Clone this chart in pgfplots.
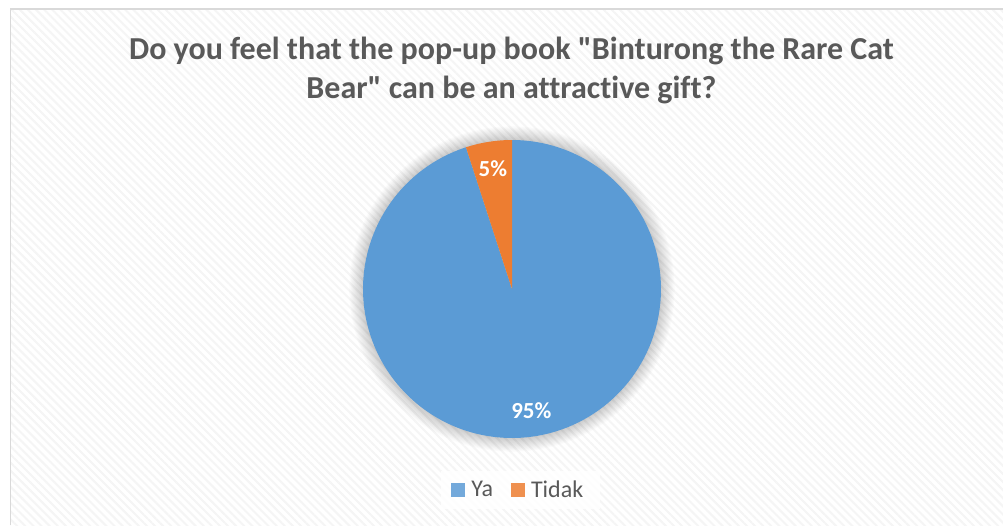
\documentclass[border=0pt]{standalone}
\usepackage{pgfplots}
\pgfplotsset{compat=1.18}
\usepackage{pgfplotstable}
\usepackage{fontspec}
\setmainfont{Carlito}[Ligatures={NoCommon,TeXOff}]
\usetikzlibrary{patterns.meta}
\definecolor{pieblue}{HTML}{5B9BD5}
\definecolor{pieorange}{HTML}{ED7D31}
\definecolor{titlegray}{HTML}{595959}
\definecolor{bordergray}{HTML}{D9D9D9}

\pgfplotstableread{
label value
Ya 95
Tidak 5
}\piedata

\begin{document}
\begin{tikzpicture}
\pgfplotstablegetelem{0}{value}\of\piedata \let\va\pgfplotsretval
\pgfplotstablegetelem{1}{value}\of\piedata \let\vb\pgfplotsretval
\pgfmathsetmacro\aS{90}
\pgfmathsetmacro\aE{90-3.6*\va}
\pgfmathsetmacro\bE{\aE-3.6*\vb}
\pgfmathsetmacro\ma{(\aS+\aE)/2}
\pgfmathsetmacro\mb{(\aE+\bE)/2}
\pgfmathsetmacro\lax{0.83*cos(\ma)}
\pgfmathsetmacro\lay{0.83*sin(\ma)}
\pgfmathsetmacro\lbx{0.82*cos(\mb)}
\pgfmathsetmacro\lby{0.82*sin(\mb)}
% canvas
\useasboundingbox (0,0) rectangle (752.25pt,-393.75pt);
\fill[white] (0,0) rectangle (752.25pt,-393.75pt);
\fill[pattern={Lines[angle=-45,distance=4.3pt,line width=1.5pt]},pattern color=black!4]
  (7.5pt,-6.75pt) rectangle (752.25pt,-393.75pt);
\draw[bordergray,line width=1.2pt] (8pt,-393.75pt) -- (8pt,-6.75pt) -- (752.25pt,-6.75pt);
% title
\node[anchor=base,font=\bfseries\fontsize{24pt}{28pt}\selectfont,text=titlegray,inner sep=0pt]
  at (383.6pt,-44.25pt) {Do you feel that the pop-up book "Binturong the Rare Cat};
\node[anchor=base,font=\bfseries\fontsize{24pt}{28pt}\selectfont,text=titlegray,inner sep=0pt]
  at (383.6pt,-73.5pt) {Bear" can be an attractive gift?};
% soft shadow
\foreach \i in {1,...,12}{
  \fill[black,opacity=0.015] (384pt,-216.75pt) circle ({111.75pt+\i*0.85pt});
}
\begin{axis}[
  hide axis,
  scale only axis,
  width=223.5pt, height=223.5pt,
  xmin=-1, xmax=1, ymin=-1, ymax=1,
  at={(384pt,-216.75pt)}, anchor=center,
  clip=false,
  legend columns=2,
  legend image code/.code={\fill[#1] (0pt,-5.25pt) rectangle (10.5pt,5.25pt);},
  legend style={at={(0.528,-0.175)},anchor=center,draw=none,fill=white,fill opacity=0.85,text opacity=1,
    font=\fontsize{18pt}{20pt}\selectfont, text=titlegray,
    inner xsep=8pt, inner ysep=5pt,
    /tikz/every odd column/.append style={column sep=0pt},
    /tikz/every even column/.append style={column sep=9pt},
    nodes={inner xsep=4.5pt}},
]
\addplot[draw=none,fill=pieblue,domain=\aE:\aS,samples=200,variable=\t]
  ({cos(\t)},{sin(\t)}) -- (axis cs:0,0) -- cycle;
\addlegendentry{Ya}
\addplot[draw=none,fill=pieorange,domain=\bE:\aE,samples=20,variable=\t]
  ({cos(\t)},{sin(\t)}) -- (axis cs:0,0) -- cycle;
\addlegendentry{Tidak}
\node[text=white,font=\bfseries\fontsize{17.25pt}{20pt}\selectfont] at (axis cs:\lax,\lay) {\va\%};
\node[text=white,font=\bfseries\fontsize{17.25pt}{20pt}\selectfont] at (axis cs:\lbx,\lby) {\vb\%};
\end{axis}
\end{tikzpicture}
\end{document}
